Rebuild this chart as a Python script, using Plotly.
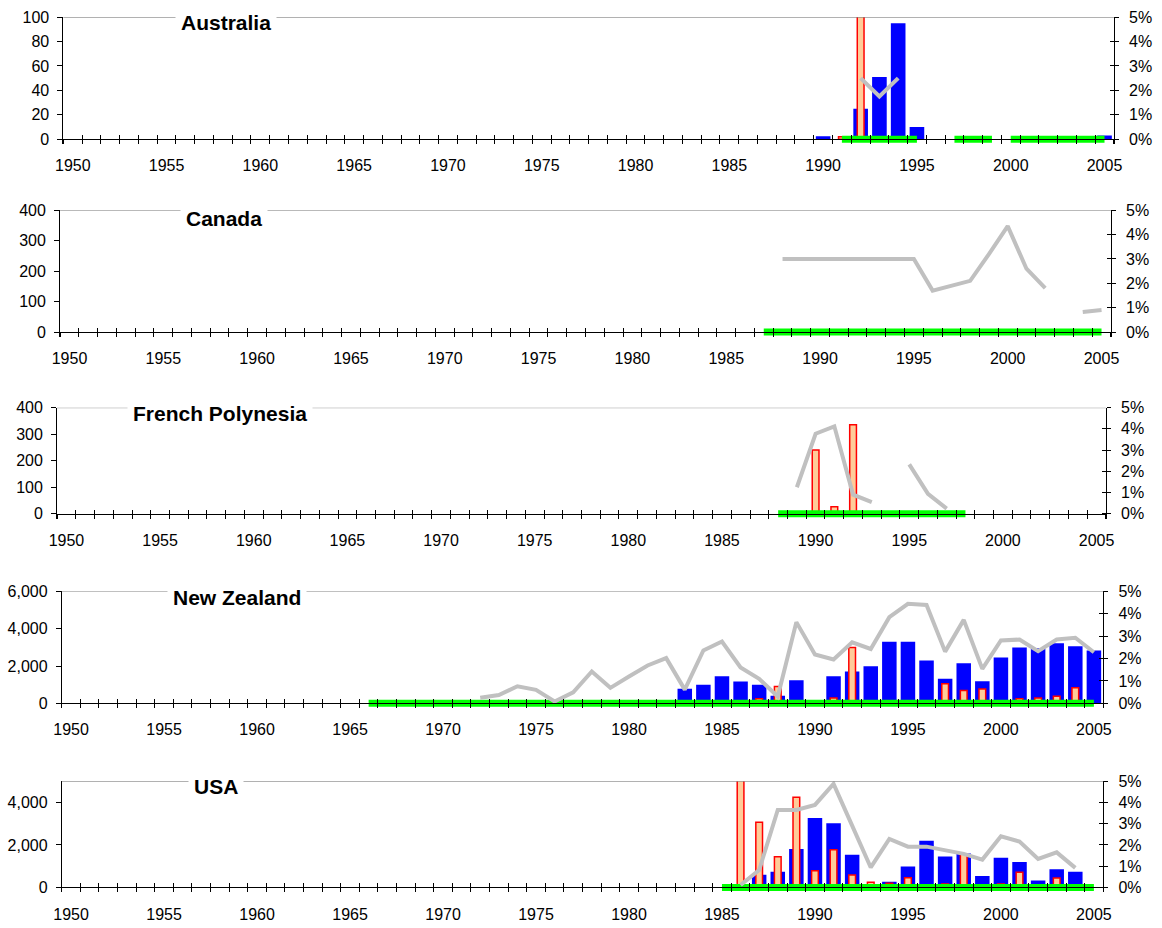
import plotly.graph_objects as go

W, H = 1162, 928
# the photo of the page comes back shrunk with a white rim of about 8px,
# so positions read off the reference are mapped back through that
RIM = 8
SX = (W + 2 * RIM) / W
SY = SX

# category axis: one slot per year, labels every 5 years
FIRST_YEAR, LAST_YEAR = 1950, 2005
TICK_YEARS = list(range(1950, 2006, 5))
SLOT_EDGES = [y - 0.5 for y in range(FIRST_YEAR, LAST_YEAR + 2)]
PCT_TICKS = [0, 0.01, 0.02, 0.03, 0.04, 0.05]

# --- Australia
AUS_BAR_YEARS = [1990, 1992, 1993, 1994, 1995, 2005]
AUS_BAR = [2.5, 25, 51, 95, 10, 3]
AUS_RATE_YEARS = [1991, 1992]
AUS_RATE = [0.001, 0.07]
AUS_LINE_YEARS = [1992, 1993, 1994]
AUS_LINE = [0.025, 0.0175, 0.025]
AUS_COVER = [(1991, 1995), (1997, 1999), (2000, 2005)]

# --- Canada
CAN_BAR_YEARS = []
CAN_BAR = []
CAN_RATE_YEARS = []
CAN_RATE = []
CAN_LINE_YEARS = list(range(1988, 2006))
CAN_LINE = [0.03, 0.03, 0.03, 0.03, 0.03, 0.03, 0.03, 0.03, 0.017, 0.019,
            0.021, 0.032, 0.0435, 0.026, 0.018, None, 0.0082, 0.009]
CAN_COVER = [(1987, 2005)]

# --- French Polynesia
FP_BAR_YEARS = []
FP_BAR = []
FP_RATE_YEARS = [1990, 1991, 1992]
FP_RATE = [0.030, 0.0033, 0.042]
FP_LINE_YEARS = list(range(1989, 1998))
FP_LINE = [0.0125, 0.0377, 0.0412, 0.009, 0.0055, None, 0.0233, 0.0094, 0.0024]
FP_COVER = [(1988, 1998)]

# --- New Zealand
NZ_BAR_YEARS = list(range(1983, 2006))
NZ_BAR = [780, 1000, 1450, 1165, 1000, 400, 1235, None, 1450, 1700, 1990, 3300,
          3300, 2290, 1310, 2150, 1180, 2455, 2990, 2950, 3220, 3060, 2830]
NZ_RATE_YEARS = [1987, 1988, 1991, 1992, 1997, 1998, 1999, 2001, 2002, 2003, 2004]
NZ_RATE = [0.002, 0.0075, 0.0024, 0.025, 0.0087, 0.0057, 0.0064, 0.002, 0.0024, 0.0031, 0.0069]
NZ_LINE_YEARS = list(range(1972, 2006))
NZ_LINE = [0.0025, 0.0037, 0.0076, 0.006, 0.0008, 0.0049, 0.0142, 0.0069, 0.012, 0.0169,
           0.0202, 0.0061, 0.0236, 0.0276, 0.016, 0.0109, 0.003, 0.0363, 0.0218, 0.0196,
           0.0273, 0.0243, 0.0385, 0.0445, 0.044, 0.0231, 0.0373, 0.0154, 0.0281, 0.0285,
           0.0233, 0.0285, 0.0293, 0.0228]
NZ_COVER = [(1966, 2005)]

# --- USA
USA_BAR_YEARS = list(range(1987, 2005))
USA_BAR = [600, 740, 1810, 3270, 3020, 1540, None, 270, 990, 2200, 1460, 1600,
           540, 1400, 1200, 330, 850, 740]
USA_RATE_YEARS = [1986, 1987, 1988, 1989, 1990, 1991, 1992, 1993, 1994, 1995, 1997,
                  1998, 2000, 2001, 2003]
USA_RATE = [0.07, 0.0307, 0.0145, 0.0425, 0.0079, 0.0178, 0.0058, 0.0024, 0.0019,
            0.0046, 0.0016, 0.0159, 0.0016, 0.0071, 0.0044]
USA_LINE_YEARS = list(range(1986, 2005))
USA_LINE = [0.0011, 0.0082, 0.0365, 0.0365, 0.0389, 0.0488, 0.0291, 0.0094, 0.0228,
            0.0192, 0.0192, 0.0173, 0.0158, 0.0131, 0.0241, 0.0216, 0.0134, 0.0165, 0.0092]
USA_COVER = [(1985, 2005)]

# box = plot area as seen in the picture (left, right, top, bottom px); title = label centre
panels = [
    dict(name="Australia", bar_x=AUS_BAR_YEARS, bar=AUS_BAR, rate_x=AUS_RATE_YEARS, rate=AUS_RATE,
         line_x=AUS_LINE_YEARS, line=AUS_LINE, cover=AUS_COVER,
         ymax=100, lticks=[0, 20, 40, 60, 80, 100], box=(63.3, 1114, 17, 139), title=(226, 22)),
    dict(name="Canada", bar_x=CAN_BAR_YEARS, bar=CAN_BAR, rate_x=CAN_RATE_YEARS, rate=CAN_RATE,
         line_x=CAN_LINE_YEARS, line=CAN_LINE, cover=CAN_COVER,
         ymax=400, lticks=[0, 100, 200, 300, 400], box=(60, 1111, 210, 331.7), title=(224, 218)),
    dict(name="French Polynesia", bar_x=FP_BAR_YEARS, bar=FP_BAR, rate_x=FP_RATE_YEARS, rate=FP_RATE,
         line_x=FP_LINE_YEARS, line=FP_LINE, cover=FP_COVER,
         ymax=400, lticks=[0, 100, 200, 300, 400], box=(57, 1106, 407.3, 513.3), title=(219.5, 413)),
    dict(name="New Zealand", bar_x=NZ_BAR_YEARS, bar=NZ_BAR, rate_x=NZ_RATE_YEARS, rate=NZ_RATE,
         line_x=NZ_LINE_YEARS, line=NZ_LINE, cover=NZ_COVER,
         ymax=6000, lticks=[0, 2000, 4000, 6000], box=(61.7, 1103.3, 591, 702.7), title=(237, 597)),
    dict(name="USA", bar_x=USA_BAR_YEARS, bar=USA_BAR, rate_x=USA_RATE_YEARS, rate=USA_RATE,
         line_x=USA_LINE_YEARS, line=USA_LINE, cover=USA_COVER,
         ymax=5000, lticks=[0, 2000, 4000], box=(61.7, 1103.3, 780.7, 886.7), title=(216, 786)),
]

FONT = "Arial, Liberation Sans, sans-serif"
PAD = 5  # px of room below the zero line so the thick green line is not cut


def ax_id(letter, n):
    return letter if n == 1 else f"{letter}{n}"


def ax_key(letter, n):
    return f"{letter}axis" if n == 1 else f"{letter}axis{n}"


def fx(px):
    return (px * SX - RIM) / W


def fy(py):
    return 1 - (py * SY - RIM) / H


fig = go.Figure()
layout = {}
shapes = []
annotations = []

for p, c in enumerate(panels):
    xa, xb = 2 * p + 1, 2 * p + 2
    ya, yb, yc = 3 * p + 1, 3 * p + 2, 3 * p + 3
    l, r, top, bot = c["box"]
    h = (bot - top) * SY
    y_lo = -PAD * c["ymax"] / h
    y2_lo = -PAD * 0.05 / h
    xdom = [fx(l), fx(r)]
    ydom = [fy(bot) - PAD / H, fy(top)]
    xpos = fy(bot)
    xrange = [FIRST_YEAR - 0.5, LAST_YEAR + 0.5]

    layout[ax_key("x", xa)] = dict(
        domain=xdom, range=xrange, anchor="free", position=xpos,
        showline=True, linecolor="black", linewidth=1,
        tickmode="array", tickvals=TICK_YEARS, ticks="",
        minor=dict(tickmode="array", tickvals=SLOT_EDGES, ticks="outside",
                   ticklen=4, tickcolor="black", tickwidth=1),
        showgrid=False, zeroline=False, ticklabelstandoff=12,
        tickfont=dict(size=16, color="black", family=FONT))
    layout[ax_key("x", xb)] = dict(
        domain=xdom, range=xrange, overlaying=ax_id("x", xa), anchor="free", position=xpos,
        tickmode="array", tickvals=SLOT_EDGES, ticks="inside", ticklen=4,
        tickcolor="black", showticklabels=False, showline=False,
        showgrid=False, zeroline=False)
    layout[ax_key("y", ya)] = dict(
        domain=ydom, range=[y_lo, c["ymax"]], anchor=ax_id("x", xa),
        tickmode="array", tickvals=c["lticks"], tickformat=",",
        ticks="outside", ticklen=5, tickcolor="black",
        showline=True, linecolor="black", showgrid=False, zeroline=False,
        ticklabelstandoff=5, tickfont=dict(size=16, color="black", family=FONT))
    layout[ax_key("y", yb)] = dict(
        overlaying=ax_id("y", ya), side="right", anchor=ax_id("x", xa),
        range=[y2_lo, 0.05], tickmode="array", tickvals=PCT_TICKS, tickformat=".0%",
        ticks="outside", ticklen=4, tickcolor="black",
        showline=True, linecolor="black", showgrid=False, zeroline=False,
        ticklabelstandoff=7, tickfont=dict(size=16, color="black", family=FONT))
    layout[ax_key("y", yc)] = dict(
        overlaying=ax_id("y", ya), side="right", anchor=ax_id("x", xa),
        range=[y2_lo, 0.05], tickmode="array", tickvals=PCT_TICKS,
        ticks="inside", ticklen=4, tickcolor="black", showticklabels=False,
        showline=False, showgrid=False, zeroline=False)

    xs, ys = ax_id("x", xa), ax_id("y", ya)
    ys2 = ax_id("y", yb)

    # blue bars, left axis
    fig.add_trace(go.Bar(x=c["bar_x"], y=c["bar"], xaxis=xs, yaxis=ys, width=0.78,
                         marker=dict(color="#0000FF", line=dict(width=0))))
    # orange bars, right axis
    fig.add_trace(go.Bar(x=c["rate_x"], y=c["rate"], xaxis=xs, yaxis=ys2, width=0.36,
                         marker=dict(color="#FFCC99", line=dict(color="#FF0000", width=1.5))))
    # green coverage line at zero
    gx, gy = [], []
    for a, b in c["cover"]:
        gx += list(range(a, b + 1)) + [None]
        gy += [0] * (b - a + 1) + [None]
    fig.add_trace(go.Scatter(x=gx, y=gy, xaxis=xs, yaxis=ys2, mode="lines",
                             line=dict(color="#00FF00", width=7), connectgaps=False))
    # grey line, right axis
    fig.add_trace(go.Scatter(x=c["line_x"], y=c["line"], xaxis=xs, yaxis=ys2, mode="lines",
                             line=dict(color="#C0C0C0", width=4), connectgaps=False))
    # invisible helper so the tick-only axes are drawn
    fig.add_trace(go.Scatter(x=[1950], y=[0], xaxis=ax_id("x", xb), yaxis=ax_id("y", yc),
                             mode="markers", marker=dict(opacity=0), hoverinfo="skip"))

    shapes.append(dict(type="line", xref=f"{xs} domain", x0=0, x1=1, yref=ys,
                       y0=c["ymax"], y1=c["ymax"], line=dict(color="#808080", width=1)))
    tx, ty = c["title"]
    annotations.append(dict(text=f"<b>{c['name']}</b>", xref="paper", yref="paper",
                            x=fx(tx), y=fy(ty), xanchor="center", yanchor="middle",
                            showarrow=False, bgcolor="white", borderpad=5,
                            font=dict(size=21, color="black", family=FONT)))

fig.update_layout(
    **layout,
    width=W, height=H,
    margin=dict(l=0, r=0, t=0, b=0),
    barmode="overlay",
    showlegend=False,
    plot_bgcolor="white",
    paper_bgcolor="white",
    shapes=shapes,
    annotations=annotations,
    font=dict(family=FONT, color="black"),
)

fig.write_html("out.html", config={"displayModeBar": False},
               post_script="document.body.style.margin='0';")
